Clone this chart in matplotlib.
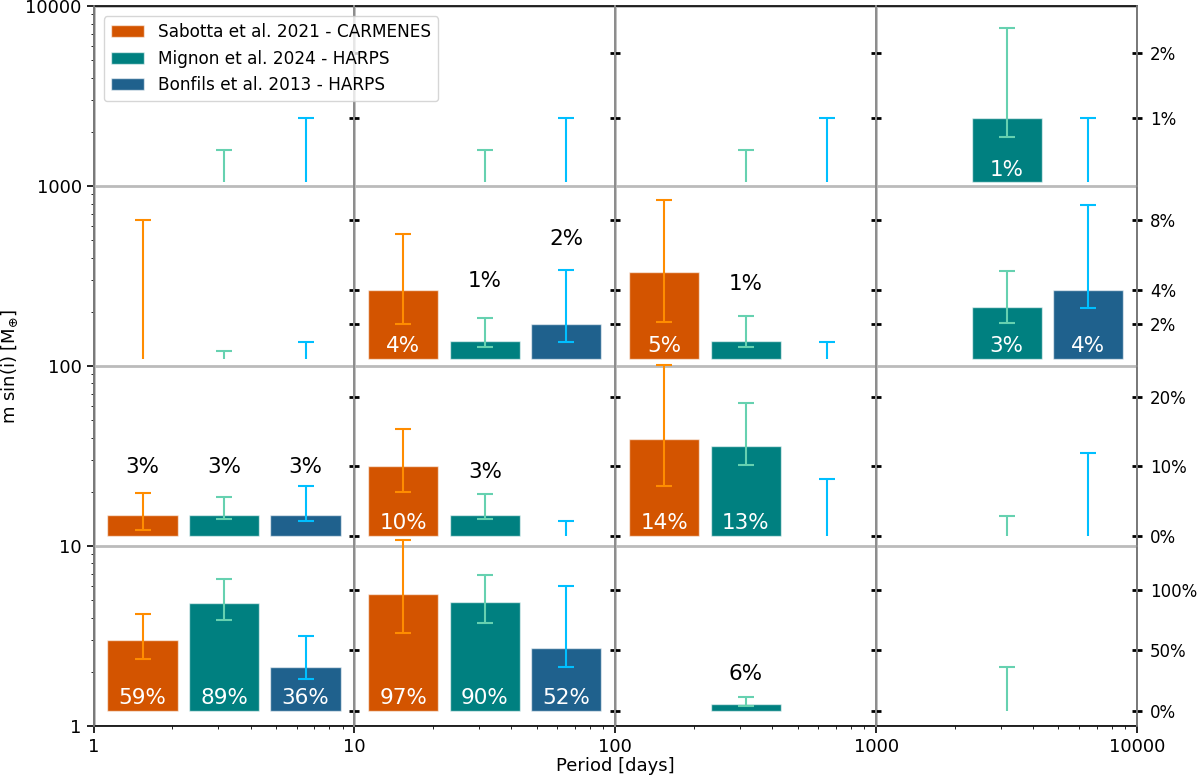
import numpy as np
import matplotlib
matplotlib.use('Agg')
import matplotlib.pyplot as plt
from matplotlib.patches import Patch

nan = np.nan

# decade bins: columns = period bins, rows = mass bins (bottom to top)
period_edges = [1, 10, 100, 1000, 10000]
mass_edges = [1, 10, 100, 1000, 10000]

surveys = ['Sabotta et al. 2021 - CARMENES',
           'Mignon et al. 2024 - HARPS',
           'Bonfils et al. 2013 - HARPS']
bar_colors = ['#d35400', '#008080', '#1f618d']
err_colors = ['#ff8c00', '#66d1b0', '#00bfff']

# occurrence rates [%] and their lower/upper bounds, rows = mass 1-10 .. 1000-10000
sabotta_rate = [[59, 97, nan, nan],
                [3, 10, 14, nan],
                [nan, 4, 5, nan],
                [nan, nan, nan, nan]]
sabotta_lo = [[42.7, 64.5, nan, nan],
              [0.9, 6.3, 7.2, nan],
              [nan, 2.0, 2.1, nan],
              [nan, nan, nan, nan]]
sabotta_hi = [[80, 141, nan, nan],
              [6.2, 15.4, 24.6, nan],
              [nan, 7.2, 9.2, nan],
              [nan, nan, nan, nan]]
sabotta_ul = [[nan, nan, nan, nan],
              [nan, nan, nan, nan],
              [8.0, nan, nan, nan],
              [nan, nan, nan, nan]]

mignon_rate = [[89, 90, 6, nan],
               [3, 3, 13, nan],
               [nan, 1, 1, 3],
               [nan, nan, nan, 1]]
mignon_lo = [[75.2, 72.7, 3.9, nan],
             [2.4, 2.4, 10.2, nan],
             [nan, 0.69, 0.68, 2.06],
             [nan, nan, nan, 0.7]]
mignon_hi = [[108.8, 112, 11.3, nan],
             [5.6, 6.0, 19.1, nan],
             [nan, 2.35, 2.5, 5.07],
             [nan, nan, nan, 2.39]]
mignon_ul = [[nan, nan, nan, 36],
             [nan, nan, nan, 2.9],
             [0.45, nan, nan, nan],
             [0.5, 0.5, 0.5, nan]]

bonfils_rate = [[36, 52, nan, nan],
                [3, nan, nan, nan],
                [nan, 2, nan, 4],
                [nan, nan, nan, nan]]
bonfils_lo = [[26.4, 36.4, nan, nan],
              [2.2, nan, nan, nan],
              [nan, 0.97, nan, 2.93],
              [nan, nan, nan, nan]]
bonfils_hi = [[62, 103, nan, nan],
              [7.2, nan, nan, nan],
              [nan, 5.13, nan, 8.9],
              [nan, nan, nan, nan]]
bonfils_ul = [[nan, nan, nan, nan],
              [nan, 2.2, 8.2, 11.9],
              [0.97, nan, 0.97, nan],
              [1.0, 1.0, 1.0, 1.0]]

rates = [sabotta_rate, mignon_rate, bonfils_rate]
lows = [sabotta_lo, mignon_lo, bonfils_lo]
highs = [sabotta_hi, mignon_hi, bonfils_hi]
uplims = [sabotta_ul, mignon_ul, bonfils_ul]

# right hand scale of every mass row
row_ticks = [[0, 50, 100], [0, 10, 20], [2, 4, 8], [1, 2]]
row_ylims = [(-12.4, 136.4), (-1.44, 24.46), (-0.42, 9.98), (-0.062, 2.733)]

# small bars get their label above, in black: (survey, row, col) -> height [%]
label_above = {(1, 0, 2): 30.6,
               (0, 1, 0): 9.9, (1, 1, 0): 9.9, (2, 1, 0): 9.9, (1, 1, 1): 9.2,
               (1, 2, 1): 4.5, (2, 2, 1): 6.9, (1, 2, 2): 4.3}

plt.rcParams['axes.linewidth'] = 1.2

fig, ax = plt.subplots(figsize=(12, 7.78), dpi=100)
fig.subplots_adjust(left=0.078, right=0.9475, top=0.992, bottom=0.067)
ax.set_xscale('log')
ax.set_yscale('log')
ax.set_xlim(period_edges[0], period_edges[-1])
ax.set_ylim(mass_edges[0], mass_edges[-1])
ax.set_xticks(period_edges, labels=[str(p) for p in period_edges])
ax.set_yticks(mass_edges, labels=[str(m) for m in mass_edges])
ax.tick_params(which='major', labelsize=13, width=1.2, length=5)
ax.grid(True, which='major', color='#bbbbbb', lw=2)
ax.set_xlabel('Period [days]', fontsize=13, labelpad=1)
ax.set_ylabel(r'm sin(i) [M$_{\oplus}$]', fontsize=13)

xs = np.arange(3)
for r in range(4):
    for c in range(4):
        ins = ax.inset_axes([c / 4, r / 4, 0.25, 0.25])
        ins.set_facecolor('none')
        ins.set_xlim(-0.6, 2.6)
        ins.set_ylim(*row_ylims[r])
        ins.set_xticks([])
        ins.yaxis.tick_right()
        ins.set_yticks(row_ticks[r], labels=[f'{t}%' for t in row_ticks[r]])
        ins.tick_params(axis='y', direction='inout', length=7, width=2,
                        labelsize=12, pad=6, labelright=(c == 3))
        ins.spines['top'].set_visible(False)
        ins.spines['bottom'].set_visible(False)
        for s in ['left', 'right']:
            ins.spines[s].set_color('#8c8c8c')
            ins.spines[s].set_linewidth(1.2)

        for k in range(3):
            v = rates[k][r][c]
            if not np.isnan(v):
                ins.bar(xs[k], v, width=0.86, color=bar_colors[k],
                        ec=(1, 1, 1, 0.6), lw=1, zorder=2)
                lo, hi = lows[k][r][c], highs[k][r][c]
                eb = ins.errorbar(xs[k], v, yerr=[[v - lo], [hi - v]], fmt='none',
                                  ecolor=err_colors[k], elinewidth=1.5, capsize=6,
                                  capthick=1.5, zorder=3)
                for part in eb.lines[1] + eb.lines[2]:
                    part.set_clip_on(False)
                if (k, r, c) in label_above:
                    ins.text(xs[k], label_above[(k, r, c)], f'{v:.0f}%',
                             ha='center', va='center', fontsize=15.5, color='black')
                else:
                    ins.annotate(f'{v:.0f}%', (xs[k], 0), xytext=(0, 9),
                                 textcoords='offset points', ha='center',
                                 va='center', fontsize=15.5, color='white', zorder=4)
            u = uplims[k][r][c]
            if not np.isnan(u):
                ins.errorbar(xs[k], u, yerr=[[u], [0]], fmt='_', ms=12, mew=1.5,
                             color=err_colors[k], elinewidth=1.5, capsize=0, zorder=3)

handles = [Patch(facecolor=col, edgecolor=(1, 1, 1, 0.6)) for col in bar_colors]
fig.legend(handles, surveys, loc='upper left', bbox_to_anchor=(0, 1),
           bbox_transform=ax.transAxes, fontsize=12.2, borderaxespad=0.6)

plt.savefig('out.png', dpi=100)
